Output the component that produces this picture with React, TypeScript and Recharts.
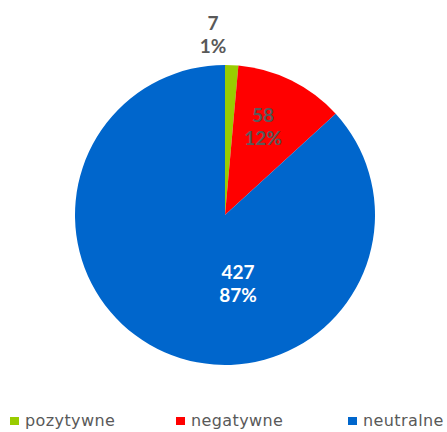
import React from 'react';
import { PieChart, Pie, Cell, Legend } from 'recharts';

const categories = ['pozytywne', 'negatywne', 'neutralne'];
const values = [7, 58, 427];
const colors = ['#99CC00', '#FF0000', '#0066CC'];
const labelColors = ['#595959', '#595959', '#FFFFFF'];

const data = categories.map((name, i) => ({ name, value: values[i] }));

// label placement offsets relative to pie center (styling only)
const labelOffsets = [
  { dx: -12, dy: -181 },
  { dx: 38, dy: -89 },
  { dx: 13, dy: 68 },
];

const renderLabel = (props: any) => {
  const { cx, cy, index, value, percent } = props;
  const o = labelOffsets[index];
  const x = cx + o.dx;
  const y = cy + o.dy;
  return (
    <text
      x={x}
      y={y}
      textAnchor="middle"
      fill={labelColors[index]}
      fontFamily="Lato, 'DejaVu Sans', sans-serif"
      fontWeight={700}
      fontSize={19}
    >
      <tspan x={x} y={y - 4}>{value}</tspan>
      <tspan x={x} y={y + 19}>{Math.round(percent * 100)}%</tspan>
    </text>
  );
};

const renderLegend = () => (
  <div
    style={{
      display: 'flex',
      justifyContent: 'flex-start',
      paddingLeft: 10,
      fontFamily: "'DejaVu Sans', sans-serif",
      fontSize: 16,
      color: '#595959',
      letterSpacing: 0.4,
    }}
  >
    {categories.map((c, i) => (
      <div key={c} style={{ display: 'flex', alignItems: 'center', width: i === 0 ? 166 : i === 1 ? 172 : 'auto' }}>
        <span style={{ display: 'inline-block', width: 9, height: 8, background: colors[i], marginRight: 6 }} />
        <span style={{ lineHeight: '18px' }}>{c}</span>
      </div>
    ))}
  </div>
);

export default function App() {
  return (
    <div style={{ position: 'absolute', left: 0, top: 0, width: 447, height: 432, background: '#fff' }}>
      <PieChart width={447} height={432} margin={{ top: 0, right: 0, bottom: 0, left: 0 }}>
        <Pie
          data={data}
          dataKey="value"
          nameKey="name"
          cx={225}
          cy={215}
          outerRadius={150}
          startAngle={90}
          endAngle={-270}
          stroke="none"
          label={renderLabel}
          labelLine={false}
          isAnimationActive={false}
        >
          {data.map((d, i) => (
            <Cell key={d.name} fill={colors[i]} />
          ))}
        </Pie>
        <Legend
          content={renderLegend}
          wrapperStyle={{ position: 'absolute', left: 0, top: 412, width: 447 }}
        />
      </PieChart>
    </div>
  );
}
